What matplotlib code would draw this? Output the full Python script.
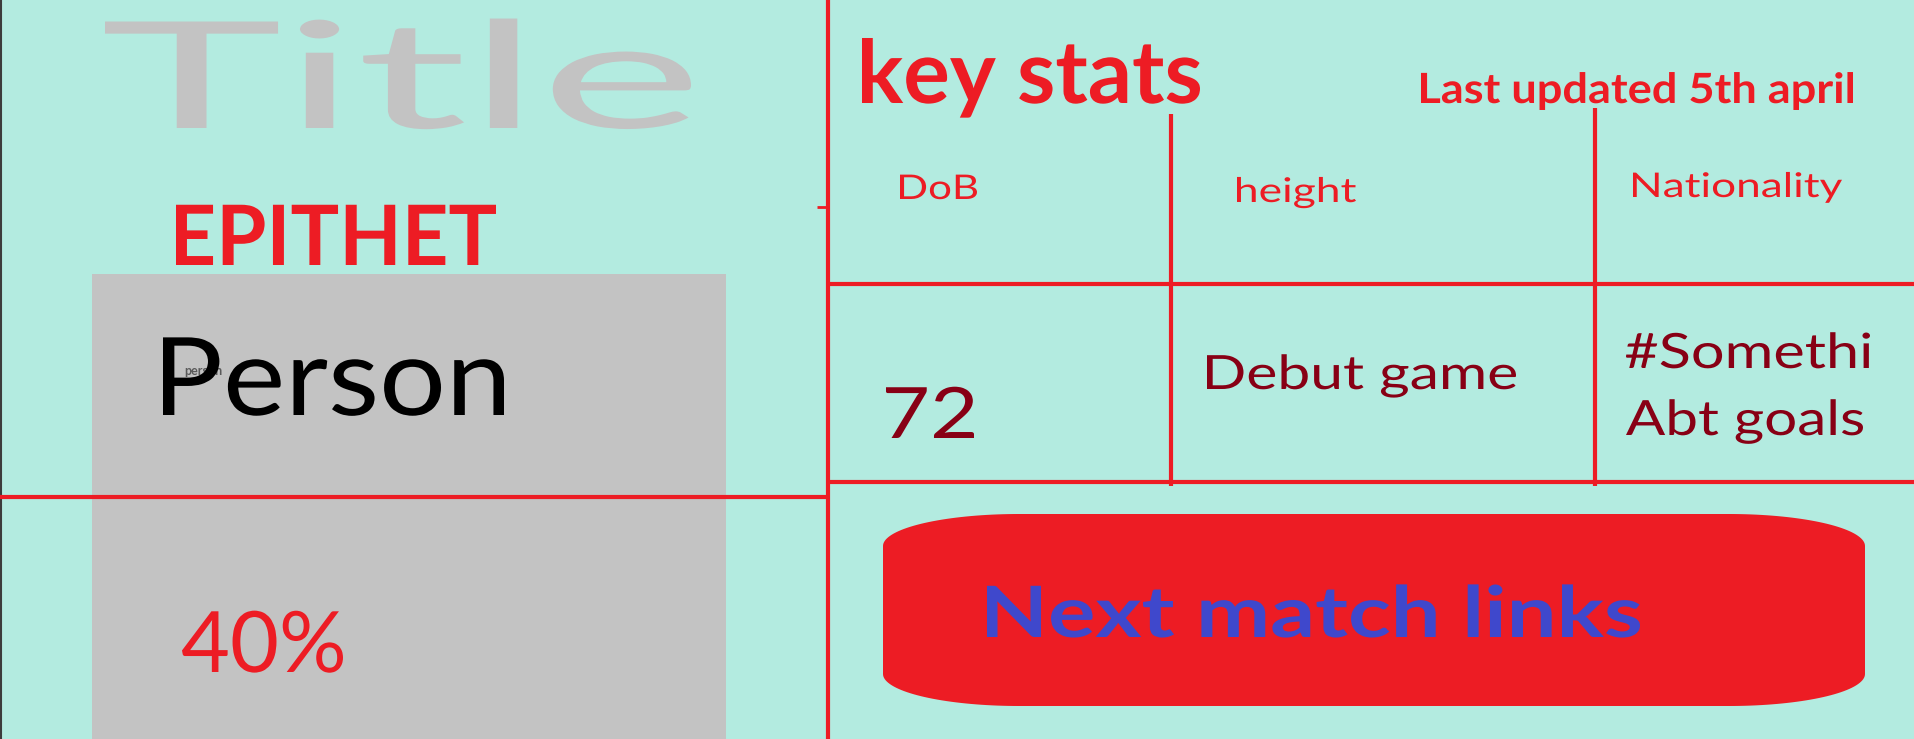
import numpy as np
import matplotlib.pyplot as plt
from matplotlib.font_manager import FontProperties
from matplotlib.patches import Polygon, Rectangle
from matplotlib.patheffects import AbstractPathEffect
from matplotlib.textpath import TextPath
from matplotlib.transforms import Affine2D

FAMILY = ['Lato', 'DejaVu Sans']
plt.rcParams['font.family'] = FAMILY

# --- content ---
title_text = "Title"
epithet = "EPITHET"
person_name = "Person"
person_small = "person"
person_pct = "40%"
key_stats_title = "key stats"
updated_note = "Last updated 5th april"
stat_headers = ["DoB", "height", "Nationality"]
stat_values = ["72", "Debut game", "#Somethi\nAbt goals"]
button_label = "Next match links"

# MS Paint style palette
BG = "#b3ebe0"
RED = "#ed1c24"
DARK_RED = "#880015"
GREY = "#c3c3c3"
BLUE = "#3f48cc"

W, H = 1914, 739
PX = 100 / 72  # pixels per point at dpi 100


class Stretch(AbstractPathEffect):
    """Stretch glyph outlines horizontally, the mock-up text is squashed/stretched."""

    def __init__(self, sx):
        super().__init__()
        self.sx = sx

    def draw_path(self, renderer, gc, tpath, affine, rgbFace=None):
        renderer.draw_path(gc, tpath, Affine2D().scale(self.sx, 1.0) + affine, rgbFace)


def pill(x0, y0, x1, y1, rx, ry, n=40):
    """Rectangle with elliptical corners, y axis pointing down."""
    pts = []
    corners = [
        (x1 - rx, y0 + ry, -90, 0),
        (x1 - rx, y1 - ry, 0, 90),
        (x0 + rx, y1 - ry, 90, 180),
        (x0 + rx, y0 + ry, 180, 270),
    ]
    for cx, cy, a0, a1 in corners:
        a = np.deg2rad(np.linspace(a0, a1, n))
        pts.append(np.column_stack([cx + rx * np.cos(a), cy + ry * np.sin(a)]))
    return np.vstack(pts)


def fit_text(ax, left, baseline, s, width, size, weight="normal", **kw):
    """Put text with its ink starting at `left` and spanning `width` pixels."""
    prop = FontProperties(family=FAMILY, weight=weight)
    ext = TextPath((0, 0), s, size=size, prop=prop).get_extents()
    sx = width / (ext.width * PX)
    t = ax.text(left - ext.x0 * PX * sx, baseline, s, fontsize=size, fontweight=weight,
                ha="left", va="baseline", **kw)
    t.set_path_effects([Stretch(sx)])
    return t


fig = plt.figure(figsize=(W / 100, H / 100), dpi=100)
fig.patch.set_facecolor(BG)
ax = fig.add_axes([0, 0, 1, 1])
ax.set_xlim(0, W)
ax.set_ylim(H, 0)
ax.axis("off")

lw = 3.0

# left panel
ax.add_patch(Rectangle((92, 274), 634, H - 274, facecolor=GREY, edgecolor="none", zorder=1))
ax.plot([1, 1], [0, H], color="#3c3c3c", lw=1.5, zorder=3)
ax.plot([0, 828], [497, 497], color=RED, lw=lw, zorder=3, solid_capstyle="butt")
ax.plot([828, 828], [0, H], color=RED, lw=lw, zorder=3, solid_capstyle="butt")
ax.plot([817, 828], [207, 207], color=RED, lw=2, zorder=3, solid_capstyle="butt")

fit_text(ax, 105, 128, title_text, 586, 107, color=GREY, zorder=2)
fit_text(ax, 176, 265, epithet, 320, 60, weight="bold", color=RED, zorder=2)
ax.text(184, 375, person_small, color="#5a5a5a", fontsize=9, fontweight="bold",
        ha="left", va="baseline", zorder=2)
fit_text(ax, 163, 415, person_name, 341, 78, color="black", zorder=2)
fit_text(ax, 182, 672, person_pct, 161, 61, color=RED, zorder=2)

# key stats table
fit_text(ax, 862, 103, key_stats_title, 338, 63, weight="bold", color=RED)
fit_text(ax, 1421, 103, updated_note, 432, 30, weight="bold", color=RED)

for y in (284, 482):
    ax.plot([828, W], [y, y], color=RED, lw=lw, solid_capstyle="butt")
ax.plot([1171, 1171], [114, 486], color=RED, lw=lw, solid_capstyle="butt")
ax.plot([1595, 1595], [108, 486], color=RED, lw=lw, solid_capstyle="butt")

header_x = [900, 1237, 1633]
header_base = [199, 202, 197]
header_w = [77, 119, 209]
for label, x, y, w in zip(stat_headers, header_x, header_base, header_w):
    fit_text(ax, x, y, label, w, 24.5, color=RED)

value_x = [886, 1207, 1626]
value_base = [438, 389, 368]
value_size = [51, 34, 35]
value_w = [[88], [309], [244, 237]]
for value, x, y, fs, widths in zip(stat_values, value_x, value_base, value_size, value_w):
    for i, (line, w) in enumerate(zip(value.split("\n"), widths)):
        fit_text(ax, x, y + i * 67, line, w, fs, color=DARK_RED)

# button
ax.add_patch(Polygon(pill(883, 514, 1865, 706, 136, 32), closed=True, facecolor=RED, edgecolor="none"))
fit_text(ax, 987, 637, button_label, 653, 51, weight="bold", color=BLUE)

fig.savefig("out.png", dpi=100, facecolor=BG)
